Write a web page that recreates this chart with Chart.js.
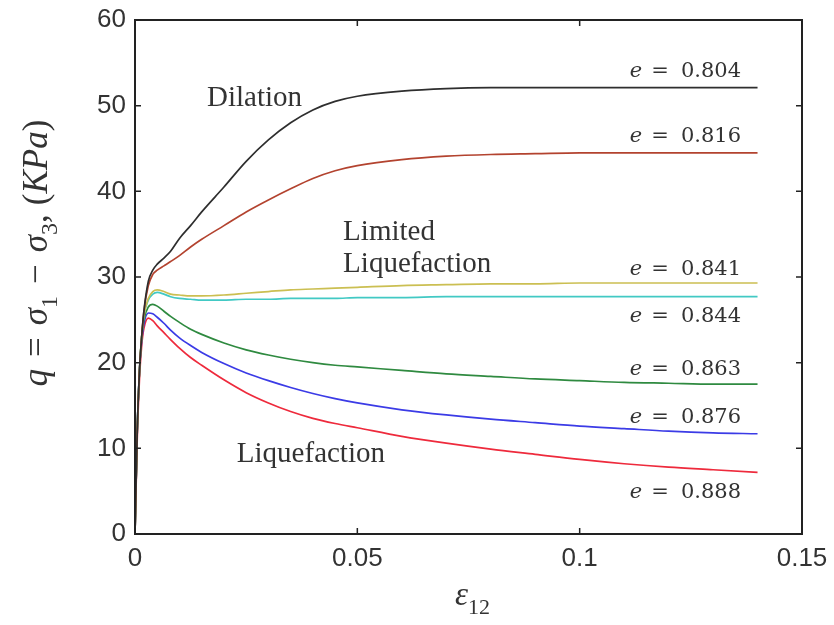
<!DOCTYPE html>
<html><head><meta charset="utf-8">
<script src="https://cdn.jsdelivr.net/npm/chart.js@4/dist/chart.umd.min.js"></script>
<style>html,body{margin:0;padding:0;background:#fff}#wrap{width:834px;height:625px;position:relative}</style>
</head><body><div id="wrap"><canvas id="c" width="834" height="625"></canvas></div>
<script>
// ---- data ----
const strain = [0, 0.0005, 0.001, 0.0015, 0.002, 0.003, 0.004, 0.005, 0.0065, 0.008, 0.01, 0.0125, 0.015, 0.02, 0.025, 0.03, 0.035, 0.04, 0.045, 0.05, 0.06, 0.07, 0.08, 0.09, 0.1, 0.11, 0.12, 0.13, 0.14];
const q_e0804 = [0, 12, 19, 23, 26, 29.5, 30.8, 31.5, 32.2, 33.0, 34.5, 36.0, 37.6, 40.5, 43.5, 46.0, 48.0, 49.5, 50.5, 51.1, 51.7, 52.0, 52.1, 52.1, 52.1, 52.1, 52.1, 52.1, 52.1];
const q_e0816 = [0, 12, 19, 23, 26, 29.0, 30.3, 30.8, 31.3, 31.8, 32.5, 33.5, 34.4, 36.0, 37.6, 39.0, 40.3, 41.5, 42.4, 43.0, 43.7, 44.1, 44.3, 44.4, 44.5, 44.5, 44.5, 44.5, 44.5];
const q_e0841 = [0, 12, 19, 23, 25.5, 27.5, 28.3, 28.5, 28.3, 28.0, 27.9, 27.8, 27.8, 27.9, 28.1, 28.3, 28.5, 28.6, 28.7, 28.8, 29.0, 29.1, 29.2, 29.2, 29.3, 29.3, 29.3, 29.3, 29.3];
const q_e0844 = [0, 12, 19, 23, 25.5, 27.3, 28.0, 28.2, 28.0, 27.7, 27.5, 27.4, 27.3, 27.3, 27.4, 27.4, 27.5, 27.5, 27.5, 27.6, 27.6, 27.7, 27.7, 27.7, 27.7, 27.7, 27.7, 27.7, 27.7];
const q_e0863 = [0, 12, 19, 23, 25.0, 26.5, 26.8, 26.6, 26.0, 25.4, 24.7, 23.9, 23.3, 22.3, 21.5, 20.9, 20.4, 20.0, 19.7, 19.5, 19.1, 18.7, 18.4, 18.1, 17.9, 17.7, 17.6, 17.5, 17.5];
const q_e0876 = [0, 12, 19, 22.5, 24.5, 25.8, 25.7, 25.3, 24.6, 23.8, 22.9, 22.0, 21.2, 19.9, 18.8, 17.9, 17.1, 16.4, 15.8, 15.3, 14.5, 13.9, 13.4, 13.0, 12.6, 12.3, 12.0, 11.8, 11.7];
const q_e0888 = [0, 11, 18, 22, 24.0, 25.2, 24.9, 24.3, 23.5, 22.7, 21.7, 20.6, 19.7, 18.0, 16.5, 15.3, 14.3, 13.5, 12.9, 12.4, 11.4, 10.6, 9.9, 9.3, 8.7, 8.2, 7.8, 7.5, 7.2];
const voidRatios = ['0.804', '0.816', '0.841', '0.844', '0.863', '0.876', '0.888'];
const xTicks = [0, 0.05, 0.1, 0.15];
const yTicks = [0, 10, 20, 30, 40, 50, 60];

// ---- styling / label placement (data coordinates) ----
const seriesList = [q_e0804, q_e0816, q_e0841, q_e0844, q_e0863, q_e0876, q_e0888];
const colors = ['#2e2e2e', '#b3432f', '#cbbf52', '#42c9c4', '#2f8a40', '#3b3be6', '#ee2a3c'];
const eLabelQ = [53.3, 45.8, 30.2, 24.8, 18.6, 13.0, 4.2];
const eLabelX = 0.1363;
const notes = [
  {text: 'Dilation', x: 0.0162, y: 50.0},
  {text: 'Limited', x: 0.0468, y: 34.3},
  {text: 'Liquefaction', x: 0.0468, y: 30.6},
  {text: 'Liquefaction', x: 0.0229, y: 8.4}
];

const datasets = seriesList.map((s, i) => ({
  label: 'e = ' + voidRatios[i],
  data: strain.map((x, k) => ({x: x, y: s[k]})),
  borderColor: colors[i],
  borderWidth: 1.7,
  pointRadius: 0,
  fill: false,
  cubicInterpolationMode: 'monotone'
}));

const SERIF = '"Liberation Serif", "Times New Roman", serif';
const SANS = '"Liberation Sans", Arial, sans-serif';

function runFont(r, size) {
  const fs = r.sub ? Math.round(size * 0.68) : size;
  return (r.i ? 'italic ' : '') + fs + 'px ' + SERIF;
}
function drawRuns(ctx, runs, size) {
  let x = 0;
  for (const r of runs) {
    if (r.gap) { x += r.gap; continue; }
    ctx.font = runFont(r, size);
    ctx.fillText(r.t, x, r.sub ? size * 0.28 : 0);
    x += ctx.measureText(r.t).width;
  }
  return x;
}
function runsWidth(ctx, runs, size) {
  let x = 0;
  for (const r of runs) {
    if (r.gap) { x += r.gap; continue; }
    ctx.font = runFont(r, size);
    x += ctx.measureText(r.t).width;
  }
  return x;
}

const decor = {
  id: 'decor',
  afterDatasetsDraw(chart) {
    const ctx = chart.ctx, xs = chart.scales.x, ys = chart.scales.y;
    const L = xs.left, R = xs.right, T = ys.top, B = ys.bottom;
    ctx.save();
    ctx.strokeStyle = '#222';
    ctx.lineWidth = 2;
    ctx.strokeRect(L, T, R - L, B - T);
    ctx.lineWidth = 1.5;
    ctx.beginPath();
    xTicks.forEach(v => {
      const p = xs.getPixelForValue(v);
      ctx.moveTo(p, B); ctx.lineTo(p, B - 6);
      ctx.moveTo(p, T); ctx.lineTo(p, T + 6);
    });
    yTicks.forEach(v => {
      const p = ys.getPixelForValue(v);
      ctx.moveTo(L, p); ctx.lineTo(L + 6, p);
      ctx.moveTo(R, p); ctx.lineTo(R - 6, p);
    });
    ctx.stroke();

    // e labels
    ctx.fillStyle = '#333';
    ctx.textBaseline = 'alphabetic';
    voidRatios.forEach((v, i) => {
      const xr = xs.getPixelForValue(eLabelX);
      const yb = ys.getPixelForValue(eLabelQ[i]);
      ctx.font = '21px "DejaVu Serif", serif';
      ctx.textAlign = 'right';
      ctx.fillText(v, xr, yb);
      const nw = ctx.measureText(v).width;
      ctx.textAlign = 'center';
      ctx.fillText('=', xr - nw - 21, yb);
      ctx.font = 'italic 21px "DejaVu Serif", serif';
      ctx.fillText('e', xr - nw - 45, yb);
    });

    // notes
    ctx.textAlign = 'left';
    ctx.fillStyle = '#333';
    ctx.font = '29px ' + SERIF;
    notes.forEach(n => {
      ctx.fillText(n.text, xs.getPixelForValue(n.x), ys.getPixelForValue(n.y));
    });

    // x title
    const xr = [{t: 'ε', i: true}, {t: '12', sub: true}];
    const xw = runsWidth(ctx, xr, 33);
    ctx.save();
    ctx.translate((L + R) / 2 + 4 - xw / 2, 605);
    drawRuns(ctx, xr, 33);
    ctx.restore();

    // y title
    const yr = [{t: 'q', i: true}, {gap: 12}, {t: '='}, {gap: 12}, {t: 'σ', i: true}, {t: '1', sub: true},
      {gap: 12}, {t: '−'}, {gap: 12}, {t: 'σ', i: true}, {t: '3', sub: true}, {t: ','}, {gap: 9},
      {t: '('}, {t: 'KPa', i: true}, {t: ')'}];
    const ysz = 35;
    const yw = runsWidth(ctx, yr, ysz);
    ctx.save();
    ctx.translate(47, 253 + yw / 2);
    ctx.rotate(-Math.PI / 2);
    drawRuns(ctx, yr, ysz);
    ctx.restore();

    ctx.restore();
  }
};

new Chart(document.getElementById('c'), {
  type: 'line',
  data: {datasets: datasets},
  options: {
    responsive: false,
    animation: false,
    devicePixelRatio: 1,
    layout: {padding: {top: 20, right: 32, left: 0, bottom: 0}},
    plugins: {legend: {display: false}, tooltip: {enabled: false}},
    scales: {
      x: {
        type: 'linear', min: 0, max: 0.15,
        afterFit: s => { s.height = 91; s.paddingLeft = 0; s.paddingRight = 0; },
        afterBuildTicks: s => { s.ticks = xTicks.map(v => ({value: v})); },
        grid: {display: false, drawTicks: false},
        border: {display: false},
        ticks: {padding: 9, color: '#333', font: {family: SANS, size: 26},
          callback: v => String(+v.toFixed(2))}
      },
      y: {
        type: 'linear', min: 0, max: 60,
        afterFit: s => { s.width = 135; s.paddingTop = 0; s.paddingBottom = 0; },
        afterBuildTicks: s => { s.ticks = yTicks.map(v => ({value: v})); },
        grid: {display: false, drawTicks: false},
        border: {display: false},
        ticks: {padding: 9, color: '#333', font: {family: SANS, size: 26},
          callback: v => String(v)}
      }
    }
  },
  plugins: [decor]
});
</script>
</body></html>
